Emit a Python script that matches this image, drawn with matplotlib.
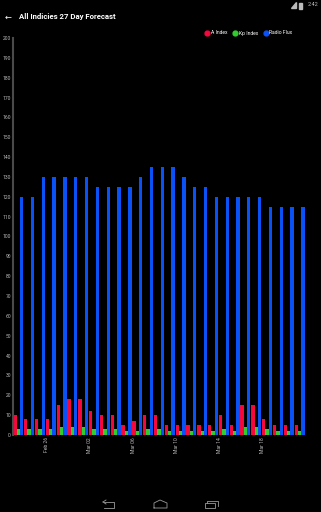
import matplotlib
matplotlib.use("Agg")
import matplotlib.pyplot as plt
from matplotlib.lines import Line2D
from matplotlib.patches import Rectangle, Polygon
import numpy as np

# 27 day forecast, one group per day starting Feb 23
days = ["Feb 23", "Feb 24", "Feb 25", "Feb 26", "Feb 27", "Feb 28", "Mar 01",
        "Mar 02", "Mar 03", "Mar 04", "Mar 05", "Mar 06", "Mar 07", "Mar 08",
        "Mar 09", "Mar 10", "Mar 11", "Mar 12", "Mar 13", "Mar 14", "Mar 15",
        "Mar 16", "Mar 17", "Mar 18", "Mar 19", "Mar 20", "Mar 21"]
a_index = [10, 8, 8, 8, 15, 18, 18, 12, 10, 10, 5, 7, 10, 10,
           5, 5, 5, 5, 5, 10, 5, 15, 15, 8, 5, 5, 5]
kp_index = [3, 3, 3, 3, 4, 4, 4, 3, 3, 3, 2, 2, 3, 3,
            2, 2, 2, 2, 2, 3, 2, 4, 4, 3, 2, 2, 2]
radio_flux = [120, 120, 130, 130, 130, 130, 130, 125, 125, 125, 125, 130, 135, 135,
              135, 130, 125, 125, 120, 120, 120, 120, 120, 115, 115, 115, 115]
label_every = 4
label_start = 3

RED = "#f5083c"
GREEN = "#33cc2e"
BLUE = "#0a52f5"

plt.rcParams["font.family"] = ["Roboto", "DejaVu Sans"]

fig = plt.figure(figsize=(3.21, 5.12), dpi=100, facecolor="black")
ax = fig.add_axes([13 / 321, 1 - 435 / 512, 292 / 321, 397 / 512])
ax.set_facecolor("black")

x = np.arange(len(days))
w = 0.31
ax.bar(x + 0.03, a_index, width=w, align="edge", color=RED, label="A Index")
ax.bar(x + 0.03 + w, kp_index, width=w, align="edge", color=GREEN, label="Kp Index")
ax.bar(x + 0.03 + 2 * w, radio_flux, width=w, align="edge", color=BLUE, label="Radio Flux")

ax.set_xlim(0, len(days))
ax.set_ylim(0, 200)
ax.set_yticks(range(0, 201, 10))
ax.tick_params(axis="y", length=0, pad=1.5, labelsize=3.6, labelcolor="#bbbbbb")

ticks = x[label_start::label_every]
ax.set_xticks(ticks + 0.1)
ax.set_xticklabels([days[i] for i in ticks], rotation=90, fontsize=3.6, color="#bbbbbb")
ax.tick_params(axis="x", length=0, pad=1.5)

for s in ["top", "right", "bottom"]:
    ax.spines[s].set_visible(False)
ax.spines["left"].set_color("#4a4a4a")
ax.spines["left"].set_linewidth(1.5)

# legend row at the top right
handles = [Line2D([], [], marker="o", ls="", color=c, markersize=3.5) for c in (RED, GREEN, BLUE)]
fig.legend(handles, ["A Index", "Kp Index", "Radio Flux"], loc="center right",
           bbox_to_anchor=(295 / 321, 1 - 33 / 512), ncol=3, frameon=False,
           fontsize=3.6, labelcolor="white", handletextpad=0.1, columnspacing=1.1,
           handlelength=1.1, borderpad=0)

# action bar and status bar
fig.text(5 / 321, 1 - 17 / 512, "\u2190", color="white", fontsize=6, va="center",
         family="DejaVu Sans")
fig.text(19 / 321, 1 - 17 / 512, "All Indicies 27 Day Forecast", color="white",
         fontsize=5.6, va="center", weight="bold")
fig.text(318 / 321, 1 - 5 / 512, "2:42", color="#bbbbbb", fontsize=4, va="center", ha="right")
fig.patches.append(Polygon([[291 / 321, 1 - 8 / 512], [296 / 321, 1 - 8 / 512], [296 / 321, 1 - 2 / 512]],
                           closed=True, transform=fig.transFigure, color="#bbbbbb"))
fig.patches.append(Rectangle((299 / 321, 1 - 8.5 / 512), 3 / 321, 6 / 512,
                             transform=fig.transFigure, color="#bbbbbb"))

# navigation bar icons
gray = "#9a9a9a"
fy = lambda y: 1 - y / 512
fx = lambda v: v / 321
fig.lines.append(Line2D([fx(104), fx(114), fx(114), fx(104)], [fy(502), fy(502), fy(508), fy(508)],
                        transform=fig.transFigure, color=gray, lw=0.6))
fig.lines.append(Line2D([fx(103), fx(106)], [fy(502), fy(500)], transform=fig.transFigure, color=gray, lw=0.6))
fig.lines.append(Line2D([fx(103), fx(106)], [fy(502), fy(504)], transform=fig.transFigure, color=gray, lw=0.6))
fig.lines.append(Line2D([fx(154), fx(154), fx(160), fx(167), fx(167), fx(154)],
                        [fy(508), fy(503), fy(500), fy(503), fy(508), fy(508)],
                        transform=fig.transFigure, color=gray, lw=0.6))
fig.patches.append(Rectangle((fx(205), fy(508)), fx(10), 5 / 512, transform=fig.transFigure,
                             fill=False, ec=gray, lw=0.6))
fig.lines.append(Line2D([fx(207), fx(207), fx(218), fx(218)], [fy(503), fy(501), fy(501), fy(506)],
                        transform=fig.transFigure, color=gray, lw=0.6))

fig.savefig("out.png", dpi=100, facecolor="black")
